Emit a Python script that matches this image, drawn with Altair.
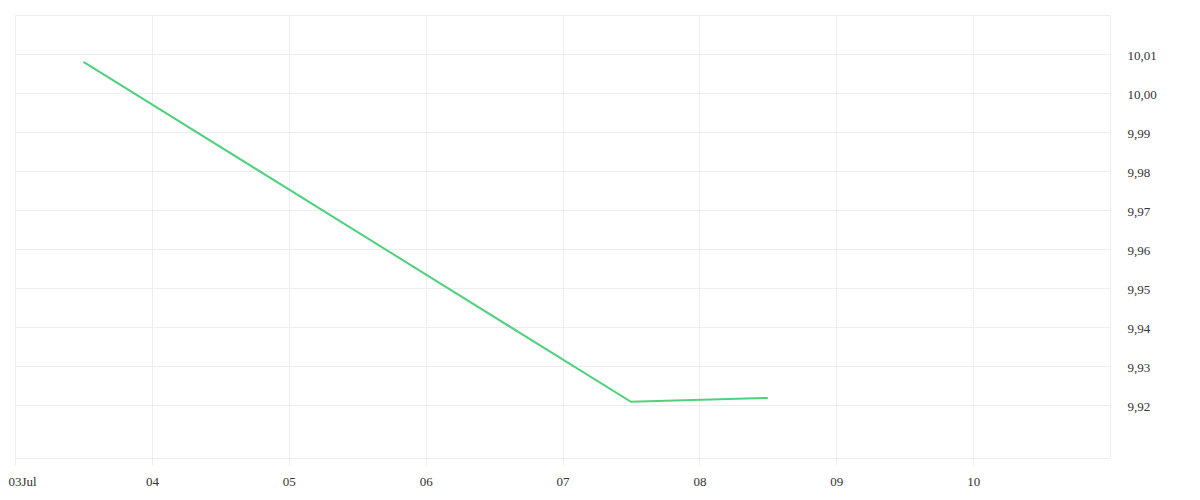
import altair as alt
import pandas as pd

times = ["2023-07-03T12:00:00", "2023-07-07T12:00:00", "2023-07-08T12:00:00"]
prices = [10.008, 9.9208, 9.9218]
tick_days = ["2023-07-03", "2023-07-04", "2023-07-05", "2023-07-06",
             "2023-07-07", "2023-07-08", "2023-07-09", "2023-07-10"]
y_ticks = [9.92, 9.93, 9.94, 9.95, 9.96, 9.97, 9.98, 9.99, 10.00, 10.01]

df = pd.DataFrame({"t": times, "v": prices})

tick_vals = [alt.DateTime(year=2023, month=7, date=int(d[-2:])) for d in tick_days]

FONT = "Liberation Serif"

chart = alt.Chart(df).mark_line(color="#4fd17d", strokeWidth=2).encode(
    x=alt.X("t:T",
            scale=alt.Scale(domain=[alt.DateTime(year=2023, month=7, date=3),
                                    alt.DateTime(year=2023, month=7, date=11)]),
            axis=alt.Axis(values=tick_vals, title=None,
                          labelExpr="datum.index == 0 ? timeFormat(datum.value, '%d%b') : timeFormat(datum.value, '%d')",
                          domain=False, tickColor="#eeeeee", tickSize=7,
                          gridColor="#eeeeee", labelFont=FONT,
                          labelFontSize=13, labelColor="#333333", labelPadding=10,
                          labelFlush=True, labelFlushOffset=7)),
    y=alt.Y("v:Q",
            scale=alt.Scale(domain=[9.9064, 10.02], nice=False, zero=False),
            axis=alt.Axis(orient="right", values=y_ticks, title=None,
                          labelExpr="replace(format(datum.value, '.2f'), '.', ',')",
                          domain=False, ticks=False, gridColor="#eeeeee",
                          labelFont=FONT, labelFontSize=13, labelOffset=2,
                          labelColor="#333333", labelPadding=17)),
).properties(
    width=1095, height=443,
    autosize=alt.AutoSizeParams(type="none"),
    padding={"left": 7, "top": 7, "right": 77, "bottom": 30},
).configure_view(stroke="#eeeeee")

chart.save("out.html", embed_options={"renderer": "svg", "actions": False})
